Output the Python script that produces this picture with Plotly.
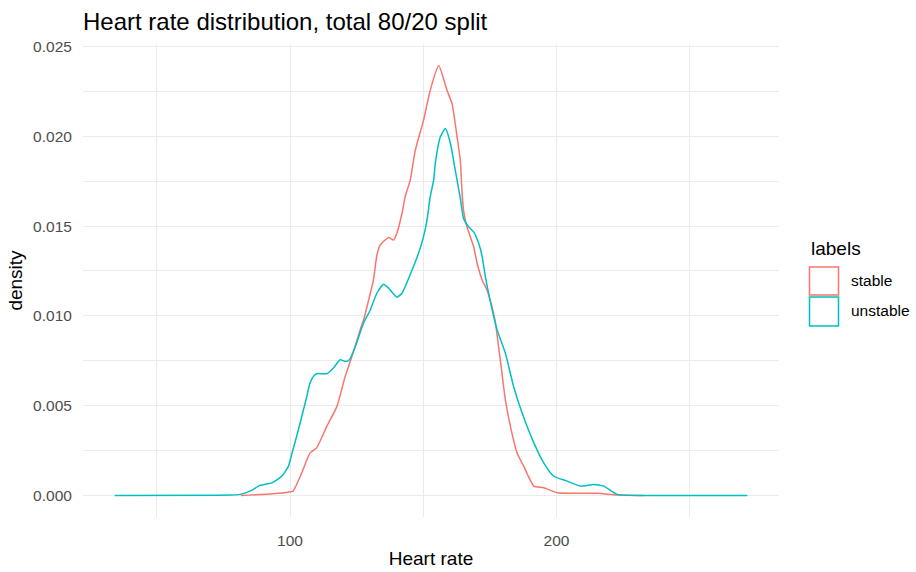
import plotly.graph_objects as go

# ---------------- data ----------------
stable_x = [81.6, 93.6, 99.2, 101.1, 104.4, 107.5, 110.0, 113.8, 117.6, 120.7, 122.6, 124.4,
            126.3, 127.6, 131.3, 132.6, 133.8, 137.0, 138.8, 140.1, 142.0, 143.2, 145.1, 147.0,
            150.1, 152.6, 155.8, 158.9, 160.8, 162.7, 163.9, 164.5, 165.1, 166.4, 168.9, 170.2,
            172.1, 173.9, 175.8, 177.1, 178.9, 180.8, 182.7, 185.2, 187.7, 191.5, 195.2, 200.3,
            215.3, 222.8, 232.7]
stable_y = [0.0, 0.0001, 0.00018, 0.00024, 0.00126, 0.00237, 0.00265, 0.00385, 0.00496, 0.00663,
            0.00746, 0.0083, 0.00922, 0.00978, 0.0120, 0.01339, 0.01394, 0.01437, 0.01422, 0.0146,
            0.0157, 0.01663, 0.01756, 0.01922, 0.02089, 0.02256, 0.02394, 0.02256, 0.02182, 0.01996,
            0.01867, 0.0170, 0.01589, 0.01496, 0.01385, 0.01293, 0.0120, 0.01144, 0.0105, 0.0096,
            0.00756, 0.00533, 0.00385, 0.00237, 0.00163, 0.00052, 0.00043, 0.00015, 0.00012,
            0.00002, 0.0]

unstable_x = [34.2, 77.4, 81.2, 85.0, 88.7, 93.1, 96.9, 99.4, 100.6, 102.5, 104.4, 106.3, 107.5,
              108.8, 110.0, 113.8, 116.3, 118.8, 120.7, 122.3, 124.4, 127.6, 130.1, 132.6, 135.1,
              137.0, 140.1, 142.0, 145.8, 148.2, 150.1, 151.4, 152.6, 153.9, 154.5, 156.4, 158.3,
              160.2, 162.0, 163.9, 165.1, 167.0, 168.9, 170.8, 172.1, 173.3, 175.2, 177.7, 180.8,
              183.9, 187.1, 191.5, 195.2, 199.0, 204.0, 209.0, 214.0, 217.7, 222.8, 232.7, 271.6]
unstable_y = [0.0, 0.00002, 0.00006, 0.00024, 0.00056, 0.0007, 0.00107, 0.00163, 0.00228, 0.0033,
              0.0044, 0.00552, 0.00626, 0.00663, 0.00678, 0.00678, 0.0071, 0.00756, 0.00746,
              0.00756, 0.00825, 0.0096, 0.01033, 0.01126, 0.01176, 0.01154, 0.01104, 0.01126,
              0.01256, 0.01348, 0.01441, 0.01533, 0.01663, 0.01756, 0.01848, 0.01996, 0.02043,
              0.0196, 0.01811, 0.01656, 0.01543, 0.01496, 0.01468, 0.01404, 0.0133, 0.01218,
              0.01078, 0.00922, 0.00793, 0.00607, 0.00459, 0.00293, 0.00182, 0.00107, 0.0008,
              0.00052, 0.00061, 0.00052, 0.00006, 0.0, 0.0]

labels = ["stable", "unstable"]
colors = ["#F8766D", "#00BFC4"]

x_ticks = [100, 200]
x_minor = [50, 150, 250]
y_ticks = [0.0, 0.005, 0.010, 0.015, 0.020, 0.025]
y_tick_text = ["0.000", "0.005", "0.010", "0.015", "0.020", "0.025"]
y_minor = [0.0025, 0.0075, 0.0125, 0.0175, 0.0225]

title_text = "Heart rate distribution, total 80/20 split"
x_title = "Heart rate"
y_title = "density"
legend_title = "labels"

# ---------------- figure ----------------
W, H = 916, 572
L, R, T, B = 83, 779, 43.5, 517.5

def px(xp):
    return (xp - L) / (R - L)

def py(yp):
    return (B - yp) / (B - T)

FONT = "Liberation Sans, Arial, sans-serif"
GRID = "#EBEBEB"

fig = go.Figure()
for xs, ys, name, col in [(stable_x, stable_y, labels[0], colors[0]),
                          (unstable_x, unstable_y, labels[1], colors[1])]:
    fig.add_trace(go.Scatter(x=xs, y=ys, mode="lines", name=name,
                             line=dict(color=col, width=1.5, shape="spline", smoothing=0.5),
                             showlegend=False, hoverinfo="x+y+name"))

fig.update_layout(
    width=W, height=H,
    margin=dict(l=L, r=W - R, t=T, b=H - B, pad=0, autoexpand=False),
    paper_bgcolor="white", plot_bgcolor="white",
    font=dict(family=FONT, color="#000000"),
    title=dict(text=title_text, x=0, xref="paper", xanchor="left",
               y=1 - 22 / H, yref="container", yanchor="middle",
               font=dict(size=24, color="#000000", family=FONT)),
    xaxis=dict(range=[22.3, 283.5], tickvals=x_ticks, showgrid=True, gridcolor=GRID,
               gridwidth=1.1, zeroline=False, showline=False, automargin=False,
               ticks="outside", ticklen=9, tickcolor="rgba(0,0,0,0)",
               tickfont=dict(size=15.5, color="#4D4D4D", family=FONT),
               minor=dict(tickvals=x_minor, showgrid=True, gridcolor=GRID, gridwidth=0.6, ticks=""),
               title=dict(text=x_title, font=dict(size=19, color="#000000", family=FONT), standoff=4)),
    yaxis=dict(range=[-0.0012, 0.02514], tickvals=y_ticks, ticktext=y_tick_text,
               showgrid=True, gridcolor=GRID, gridwidth=1.1, zeroline=False, showline=False,
               automargin=False,
               ticks="outside", ticklen=7, tickcolor="rgba(0,0,0,0)",
               tickfont=dict(size=15.5, color="#4D4D4D", family=FONT),
               minor=dict(tickvals=y_minor, showgrid=True, gridcolor=GRID, gridwidth=0.6, ticks=""),
               title=dict(text=y_title, font=dict(size=19, color="#000000", family=FONT), standoff=5)),
)

# manual ggplot-style legend
fig.add_annotation(x=px(809), y=py(248), xref="paper", yref="paper", text=legend_title,
                   showarrow=False, xanchor="left", yanchor="middle",
                   font=dict(size=19, color="#000000", family=FONT))
key_rows = [(267, 295, 281), (297, 326, 311)]
for (y0, y1, yc), name, col in zip(key_rows, labels, colors):
    fig.add_shape(type="rect", xref="paper", yref="paper",
                  x0=px(809.5), x1=px(838.5), y0=py(y1), y1=py(y0),
                  line=dict(color=col, width=1.5), fillcolor="white")
    fig.add_annotation(x=px(849), y=py(yc), xref="paper", yref="paper", text=name,
                       showarrow=False, xanchor="left", yanchor="middle",
                       font=dict(size=15.5, color="#000000", family=FONT))

fig.write_html("out.html")
